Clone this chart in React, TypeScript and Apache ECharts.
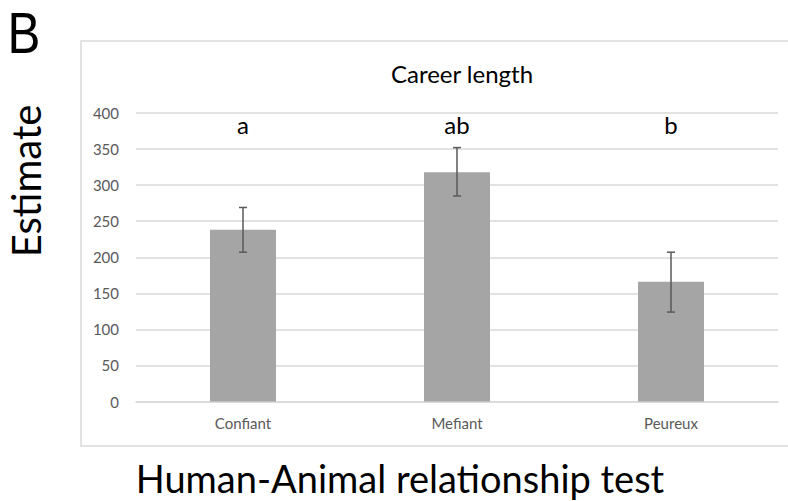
import React, { useEffect, useRef } from "react";
import * as echarts from "echarts";

const categories = ["Confiant", "Mefiant", "Peureux"];
const estimates = [238, 318, 166];
const errLow = [207, 285, 124];
const errHigh = [269, 352, 207];
const letters = ["a", "ab", "b"];
const letterY = [384, 384, 384];
const yTicks = { min: 0, max: 400, interval: 50 };

const FONT = "Lato, 'Open Sans', sans-serif";

export default function App() {
  const ref = useRef<HTMLDivElement>(null);
  useEffect(() => {
    document.body.style.margin = "0";
    if (!ref.current) return;
    const chart = echarts.init(ref.current, null, { renderer: "svg" });
    chart.setOption({
      animation: false,
      backgroundColor: "#ffffff",
      title: {
        text: "Career length",
        left: 457,
        textAlign: "center",
        top: 56,
        textStyle: { fontFamily: FONT, fontSize: 24, fontWeight: "normal", color: "#000000" },
      },
      graphic: [
        {
          type: "rect",
          shape: { x: 81, y: 41, width: 720, height: 405 },
          style: { fill: "none", stroke: "#d9d9d9", lineWidth: 1.5 },
          z: 0,
        },
        {
          type: "text",
          x: 24,
          y: 33,
          scaleX: 0.85,
          style: {
            text: "B",
            fontFamily: "'Liberation Sans', Arial, sans-serif",
            fontSize: 58,
            lineHeight: 58,
            fill: "#000000",
            align: "center",
            verticalAlign: "middle",
          },
        },
        {
          type: "text",
          x: 26,
          y: 181,
          rotation: Math.PI / 2,
          style: {
            text: "Estimate",
            fontFamily: FONT,
            fontSize: 40,
            fill: "#000000",
            align: "center",
            verticalAlign: "middle",
          },
        },
        {
          type: "text",
          x: 400,
          y: 478,
          style: {
            text: "Human-Animal relationship test",
            fontFamily: FONT,
            fontSize: 38,
            fill: "#000000",
            align: "center",
            verticalAlign: "middle",
          },
        },
      ],
      grid: { left: 136, right: 10, top: 113, bottom: 99.5, containLabel: false },
      xAxis: {
        type: "category",
        data: categories,
        axisLine: { show: true, lineStyle: { color: "#d9d9d9", width: 1.5 } },
        axisTick: { show: false },
        axisLabel: { color: "#595959", fontSize: 15, fontFamily: FONT, margin: 14 },
      },
      yAxis: {
        type: "value",
        min: yTicks.min,
        max: yTicks.max,
        interval: yTicks.interval,
        axisLine: { show: false },
        axisTick: { show: false },
        axisLabel: { color: "#595959", fontSize: 15, fontFamily: FONT, margin: 17 },
        splitLine: { lineStyle: { color: "#d9d9d9", width: 1.5 } },
      },
      series: [
        {
          type: "bar",
          data: estimates,
          barWidth: 66,
          itemStyle: { color: "#a5a5a5" },
          z: 2,
        },
        {
          type: "custom",
          data: categories.map((_, i) => [i, errLow[i], errHigh[i]]),
          z: 5,
          renderItem: (params: any, api: any) => {
            const i = api.value(0);
            const lo = api.coord([i, api.value(1)]);
            const hi = api.coord([i, api.value(2)]);
            const hw = 4;
            const style = { stroke: "#595959", lineWidth: 1.5 };
            return {
              type: "group",
              children: [
                { type: "line", shape: { x1: lo[0], y1: lo[1], x2: hi[0], y2: hi[1] }, style },
                { type: "line", shape: { x1: lo[0] - hw, y1: lo[1], x2: lo[0] + hw, y2: lo[1] }, style },
                { type: "line", shape: { x1: hi[0] - hw, y1: hi[1], x2: hi[0] + hw, y2: hi[1] }, style },
              ],
            };
          },
        },
        {
          type: "custom",
          data: categories.map((_, i) => [i, letterY[i]]),
          z: 5,
          renderItem: (params: any, api: any) => {
            const idx = params.dataIndex;
            const p = api.coord([api.value(0), api.value(1)]);
            return {
              type: "text",
              x: p[0],
              y: p[1],
              style: {
                text: letters[idx],
                fontFamily: FONT,
                fontSize: 24,
                fill: "#000000",
                align: "center",
                verticalAlign: "middle",
              },
            };
          },
        },
      ],
    });
    return () => chart.dispose();
  }, []);
  return <div ref={ref} style={{ width: 788, height: 501 }} />;
}
